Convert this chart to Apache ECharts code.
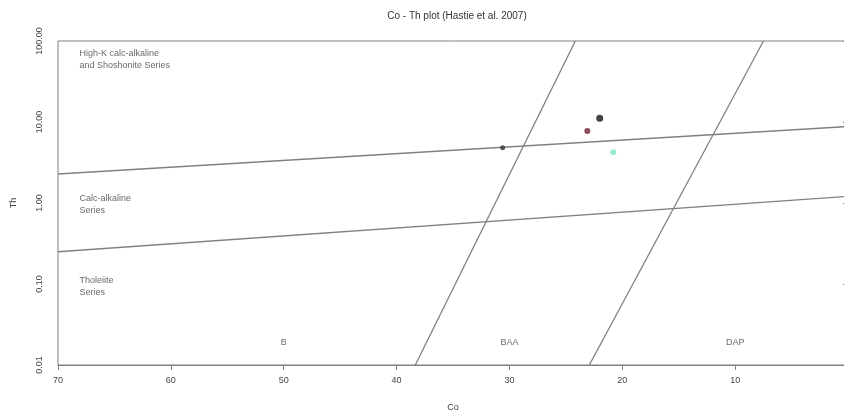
<!DOCTYPE html>
<html>
<head>
<meta charset="utf-8">
<script src="https://cdn.jsdelivr.net/npm/echarts@6/dist/echarts.min.js"></script>
<style>
  html, body { margin: 0; padding: 0; background: #fff; }
  #main { width: 844px; height: 416px; }
</style>
</head>
<body>
<div id="main"></div>
<script>
var dom = document.getElementById('main');
var myChart = echarts.init(dom, null, { renderer: 'canvas' });

// boundary lines, [Co, Th]
const highKLine = [[70, 2.28], [0, 8.8]];
const calcAlkLine = [[70, 0.25], [0, 1.21]];
const bBaaLine = [[38.34, 0.01], [24.16, 100]];
const baaDapLine = [[22.92, 0.01], [7.49, 100]];

// samples
const sampleNames = ['s1', 's2', 's3', 's4'];
const sampleCo = [22.0, 23.1, 30.6, 20.8];
const sampleTh = [11.1, 7.74, 4.82, 4.23];

// series field labels [Co, Th, text]
const seriesLabels = [
  [68.1, 58.3, 'High-K calc-alkaline\nand Shoshonite Series'],
  [68.1, 0.957, 'Calc-alkaline\nSeries'],
  [68.1, 0.0944, 'Tholeiite\nSeries']
];
const settingLabels = [
  [50, 0.0187, 'B'],
  [30, 0.0187, 'BAA'],
  [10, 0.0187, 'DAP']
];

const yTicks = [0.01, 0.1, 1, 10, 100];

const sampleColors = ['#111111', '#6e2333', '#333333', '#7fe3c9'];
const sampleSizes = [7, 6, 5, 6];

const lineColor = '#808080';
const txt = '#444';
const font = 'Liberation Sans, Arial, sans-serif';

function lineSeries(d) {
  return {
    type: 'line',
    data: d,
    symbol: 'none',
    silent: true,
    lineStyle: { color: lineColor, width: 1.3 },
    z: 2
  };
}

function textSeries(d, align) {
  return {
    type: 'scatter',
    data: d,
    symbolSize: 0,
    silent: true,
    label: {
      show: true,
      position: 'inside',
      formatter: function (p) { return p.data[2]; },
      color: txt,
      fontSize: 9,
      fontFamily: font,
      lineHeight: 12,
      align: align,
      verticalAlign: 'middle'
    }
  };
}

var series = [
  lineSeries(highKLine),
  lineSeries(calcAlkLine),
  lineSeries(bBaaLine),
  lineSeries(baaDapLine),
  textSeries(seriesLabels, 'left'),
  textSeries(settingLabels, 'center')
];
for (let i = 0; i < sampleNames.length; i++) {
  series.push({
    name: sampleNames[i],
    type: 'scatter',
    data: [[sampleCo[i], sampleTh[i]]],
    symbol: 'circle',
    symbolSize: sampleSizes[i],
    itemStyle: { color: sampleColors[i] },
    z: 5
  });
}

var option = {
  animation: false,
  backgroundColor: '#fff',
  textStyle: { fontFamily: font },
  title: {
    text: 'Co - Th plot (Hastie et al. 2007)',
    left: 452,
    textAlign: 'center',
    top: 6,
    textStyle: { fontSize: 10, fontWeight: 'normal', color: '#333', fontFamily: font }
  },
  grid: {
    left: 58,
    top: 41,
    width: 790,
    bottom: 51,
    outerBoundsMode: 'none',
    containLabel: false,
    show: true,
    borderColor: '#808080',
    borderWidth: 1
  },
  xAxis: {
    type: 'value',
    min: 0,
    max: 70,
    interval: 10,
    inverse: true,
    name: 'Co',
    nameLocation: 'middle',
    nameGap: 38,
    nameTextStyle: { color: txt, fontSize: 9, fontFamily: font },
    axisLine: { show: true, lineStyle: { color: '#808080' } },
    axisTick: { show: true, length: 5, lineStyle: { color: '#808080' } },
    axisLabel: { color: txt, fontSize: 9, margin: 11, fontFamily: font, showMaxLabel: true, showMinLabel: true },
    splitLine: { show: false }
  },
  yAxis: {
    type: 'log',
    logBase: 10,
    min: 0.01,
    max: 100,
    name: 'Th',
    nameLocation: 'middle',
    nameGap: 40,
    nameRotate: 90,
    nameTextStyle: { color: txt, fontSize: 9, fontFamily: font },
    axisLine: { show: true, lineStyle: { color: '#808080' } },
    axisTick: { show: true, length: 5, lineStyle: { color: '#808080' } },
    axisLabel: {
      color: txt,
      fontSize: 9,
      rotate: 90,
      margin: 14,
      fontFamily: font,
      formatter: function (v) {
        var best = yTicks.reduce(function (a, b) { return Math.abs(Math.log10(b / v)) < Math.abs(Math.log10(a / v)) ? b : a; });
        return best.toFixed(2);
      }
    },
    splitLine: { show: false }
  },
  series: series
};

myChart.setOption(option);
window.addEventListener('resize', myChart.resize);
</script>
</body>
</html>
